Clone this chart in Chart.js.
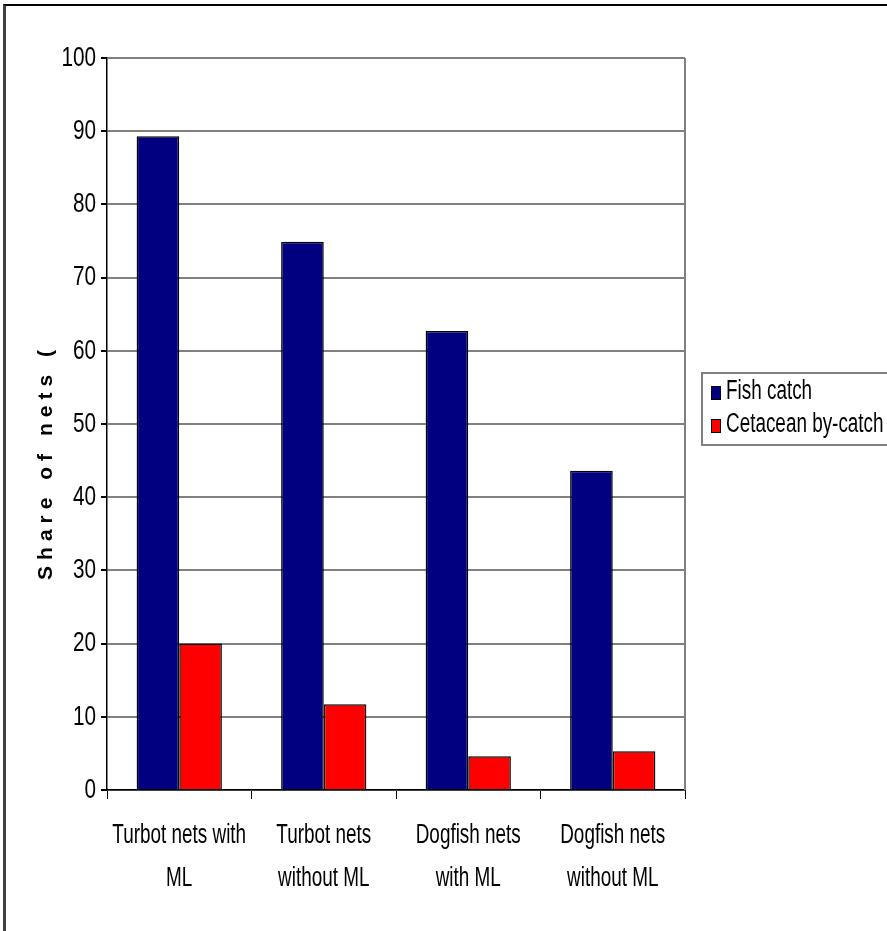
<!DOCTYPE html>
<html>
<head>
<meta charset="utf-8">
<script src="https://cdn.jsdelivr.net/npm/chart.js@4.4.1/dist/chart.umd.min.js"></script>
<style>
  body { margin: 0; background: #fff; }
  #wrap { position: relative; width: 887px; height: 931px; overflow: hidden; }
  #frame { position: absolute; left: 3px; top: 4px; width: 900px; height: 940px;
           border-left: 3px solid #404040; border-top: 2px solid #000; }
  #legend { position: absolute; left: 701px; top: 372px; width: 200px; height: 70px;
            border: 2px solid #808080; border-right: none;
            font-family: "Liberation Sans", Arial, sans-serif; font-size: 27px; }
  .item { position: absolute; left: 8px; white-space: nowrap; line-height: 26px; }
  .sw { display: inline-block; width: 8px; height: 12px; border: 1px solid #000; vertical-align: -1px; }
  .tx { display: inline-block; transform: scaleX(0.7); transform-origin: left center; margin-left: 5px; }
</style>
</head>
<body>
<div id="wrap">
  <canvas id="chart" width="887" height="931"></canvas>
  <div id="frame"></div>
  <div id="legend"></div>
</div>
<script>
'use strict';

// Datos
const categories = [
  ['Turbot nets with', 'ML'],
  ['Turbot nets', 'without ML'],
  ['Dogfish nets', 'with ML'],
  ['Dogfish nets', 'without ML']
];
const seriesNames = ['Fish catch', 'Cetacean by-catch'];
const fishCatch = [89.3, 74.9, 62.7, 43.6];
const cetaceanBycatch = [20.0, 11.7, 4.6, 5.3];
const yMin = 0, yMax = 100, yStep = 10;
const yTitle = 'Share of nets (';

const COLORS = ['#000080', '#FF0000'];
const FONT = '"Liberation Sans", Arial, sans-serif';
const SQUEEZE = 0.7; // texto estrecho como en el original

function narrowText(ctx, text, x, y, align, squeeze) {
  ctx.save();
  ctx.translate(x, y);
  ctx.scale(squeeze || SQUEEZE, 1);
  ctx.textAlign = align;
  ctx.textBaseline = 'middle';
  ctx.fillText(text, 0, 0);
  ctx.restore();
}

// Etiquetas estrechas, titulo del eje Y y borde derecho
const extras = {
  id: 'extras',
  afterDraw(chart) {
    const { ctx, chartArea: a } = chart;
    const xs = chart.scales.x, ys = chart.scales.y;
    ctx.save();
    ctx.strokeStyle = '#808080';
    ctx.lineWidth = 2;
    ctx.beginPath();
    ctx.moveTo(a.right, a.top);
    ctx.lineTo(a.right, a.bottom);
    ctx.stroke();

    ctx.fillStyle = '#000';
    ctx.font = '28px ' + FONT;
    ys.ticks.forEach(t => {
      narrowText(ctx, String(t.value), 96, ys.getPixelForValue(t.value), 'right', 0.74);
    });
    ctx.font = '27px ' + FONT;
    chart.data.labels.forEach((lines, i) => {
      const x = xs.getPixelForTick(i);
      lines.forEach((ln, j) => narrowText(ctx, ln, x, 836 + j * 43, 'center'));
    });

    ctx.translate(46, 465);
    ctx.rotate(-Math.PI / 2);
    ctx.font = 'bold 21px ' + FONT;
    ctx.letterSpacing = '6px';
    ctx.textAlign = 'center';
    ctx.textBaseline = 'middle';
    ctx.fillText(yTitle, 3, 0);
    ctx.restore();
  }
};

const chart = new Chart(document.getElementById('chart'), {
  type: 'bar',
  data: {
    labels: categories,
    datasets: [
      { label: seriesNames[0], data: fishCatch, backgroundColor: COLORS[0] },
      { label: seriesNames[1], data: cetaceanBycatch, backgroundColor: COLORS[1] }
    ].map(d => Object.assign(d, {
      borderColor: '#000', borderWidth: 1.5, borderSkipped: 'bottom',
      categoryPercentage: 0.59, barPercentage: 1.0
    }))
  },
  options: {
    responsive: false,
    animation: false,
    layout: { padding: { top: 58, right: 202, left: 0, bottom: 0 } },
    plugins: { legend: { display: false }, tooltip: { enabled: false } },
    scales: {
      x: {
        afterFit: s => { s.height = 141; },
        grid: { offset: true, drawOnChartArea: false, drawTicks: true, tickLength: 9, tickColor: '#000', lineWidth: 1 },
        border: { color: '#000', width: 1.5 },
        ticks: { autoSkip: false, color: 'rgba(0,0,0,0)', maxRotation: 0 }
      },
      y: {
        min: yMin, max: yMax,
        afterFit: s => { s.width = 107; },
        grid: { color: '#808080', lineWidth: 2, tickLength: 6, tickColor: '#000' },
        border: { color: '#000', width: 1.5 },
        ticks: { stepSize: yStep, color: 'rgba(0,0,0,0)' }
      }
    }
  },
  plugins: [extras]
});

// Leyenda en HTML
const legend = document.getElementById('legend');
chart.data.datasets.forEach((ds, i) => {
  const el = document.createElement('div');
  el.className = 'item';
  el.style.top = (3 + i * 33) + 'px';
  el.innerHTML = '<span class="sw" style="background:' + ds.backgroundColor + '"></span>' +
                 '<span class="tx">' + ds.label + '</span>';
  legend.appendChild(el);
});
</script>
</body>
</html>
